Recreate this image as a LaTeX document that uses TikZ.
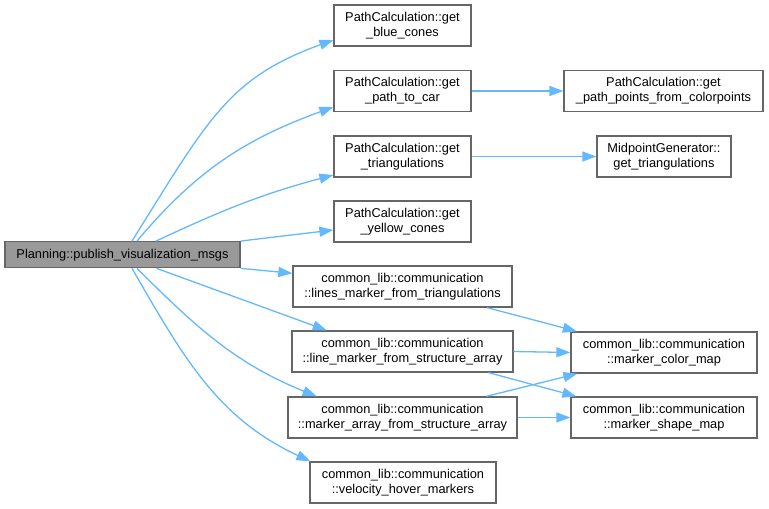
\documentclass[tikz,border=0pt]{standalone}
\usepackage{fontspec}
\setmainfont{Liberation Sans}
\usepackage{tikz}
\usetikzlibrary{arrows.meta}
\definecolor{calledge}{HTML}{63B8FF}
\definecolor{boxline}{HTML}{666666}
\definecolor{rootfill}{HTML}{999999}
\tikzset{
  every picture/.style = {
    line width = 1.3pt,
    >={Triangle[length=14pt,width=10pt]},
    x = 1pt,
    y = 1pt
  }
  ,
  func/.style = {
    rectangle,
    draw = boxline,
    fill = white,
    align = center,
    inner sep = 0pt,
    font = \fontsize{12.8}{15}\selectfont,
    minimum height = 41pt
  }
  , % the function whose calls are shown
  func-root/.style = {
    func,
    fill = rootfill,
    minimum height = 26pt
  }
  , % calls
  call/.style = {
    draw = calledge,
    ->
  }
}

\begin{document}
\begin{tikzpicture}[every edge/.style = {call}]
    \useasboundingbox (0,0) rectangle (769,509);
    \node [func-root, minimum width = 235pt] (root) at (122.5,254.3) {Planning::publish\_visualization\_msgs};
    \node [func, minimum width = 137pt] (blue) at (402.5,483.5) {PathCalculation::get\\\_blue\_cones};
    \node [func, minimum width = 137pt] (car) at (402.5,418) {PathCalculation::get\\\_path\_to\_car};
    \node [func, minimum width = 137pt] (tri) at (402.5,352.5) {PathCalculation::get\\\_triangulations};
    \node [func, minimum width = 137pt] (yellow) at (402.5,287.5) {PathCalculation::get\\\_yellow\_cones};
    \node [func, minimum width = 219pt] (lines) at (402.5,222.5) {common\_lib::communication\\::lines\_marker\_from\_triangulations};
    \node [func, minimum width = 221pt] (line) at (402.5,157.5) {common\_lib::communication\\::line\_marker\_from\_structure\_array};
    \node [func, minimum width = 229pt] (array) at (402.5,91.5) {common\_lib::communication\\::marker\_array\_from\_structure\_array};
    \node [func, minimum width = 186pt] (velocity) at (403,26.5) {common\_lib::communication\\::velocity\_hover\_markers};
    \node [func, minimum width = 199pt] (points) at (663.5,418) {PathCalculation::get\\\_path\_points\_from\_colorpoints};
    \node [func, minimum width = 134pt] (mid) at (664,352.5) {MidpointGenerator::\\get\_triangulations};
    \node [func, minimum width = 186pt] (color) at (664,156.5) {common\_lib::communication\\::marker\_color\_map};
    \node [func, minimum width = 186pt] (shape) at (664,91.5) {common\_lib::communication\\::marker\_shape\_map};
    % calls of the root
    \path ([xshift=9.5pt]root.north) edge [out=58, in=200, out looseness=1.3] ([yshift=-14.5pt]blue.west);
    \path ([xshift=14.5pt]root.north) edge [out=50, in=200] ([yshift=-16pt]car.west);
    \path ([xshift=33.5pt]root.north) edge [out=25, in=195] ([yshift=-18.5pt]tri.west);
    \path (root.north east) edge ([yshift=-8.5pt]yellow.west);
    \path (root.south east) edge ([yshift=13.2pt]lines.west);
    \path ([xshift=34pt]root.south) edge ([xshift=-75.8pt]line.north);
    \path ([xshift=14.5pt]root.south) edge [out=-45, in=158] ([xshift=-85.8pt]array.north);
    \path ([xshift=9.5pt]root.south) edge [out=-60, in=155] ([xshift=1pt]velocity.north west);
    % further calls
    \path (car) edge (points)
          (tri) edge (mid);
    \path ([xshift=84.5pt]lines.south) edge ([xshift=6.5pt]color.north west);
    \path (line.east) edge (color.west)
          ([xshift=86pt]line.south) edge ([xshift=6pt]shape.north west);
    \path ([xshift=84pt]array.north) edge ([xshift=7pt]color.south west)
          (array.east) edge (shape.west);
\end{tikzpicture}
\end{document}
